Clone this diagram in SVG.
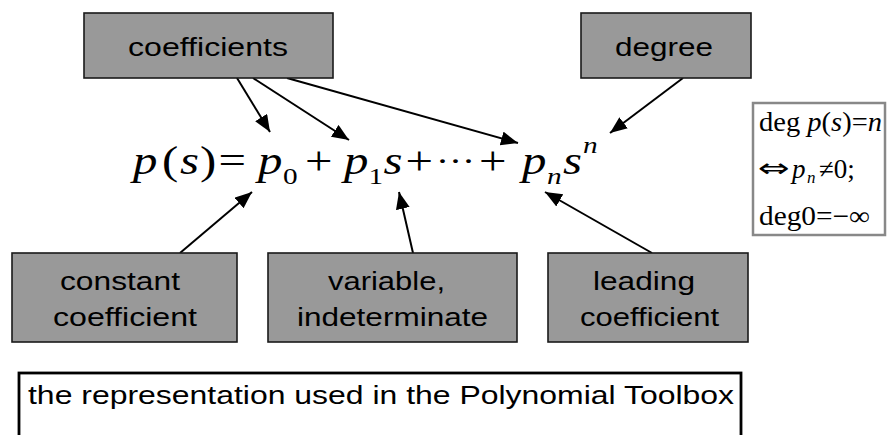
<svg xmlns="http://www.w3.org/2000/svg" width="887" height="435" viewBox="0 0 887 435">
<defs>
<style>
.box{fill:#999999;stroke:#1a1a1a;stroke-width:1.6}
.lbl{font-family:"Liberation Sans",Arial,sans-serif;font-size:26px;fill:#000}
.math{font-family:"Liberation Serif","Times New Roman",serif;fill:#000}
.it{font-style:italic}
.sub{font-size:24px}
.conn{stroke:#000;stroke-width:2;fill:none;marker-end:url(#ah)}
</style>
<marker id="ah" markerUnits="userSpaceOnUse" markerWidth="20" markerHeight="16" refX="17" refY="7" orient="auto">
<path d="M0,0 L17,7 L0,14 Z" fill="#000"/>
</marker>
</defs>
<rect width="887" height="435" fill="#fff"/>

<g id="connectors">
<line class="conn" x1="237" y1="78" x2="270" y2="132"/>
<line class="conn" x1="253" y1="78" x2="349" y2="140"/>
<line class="conn" x1="287" y1="78" x2="518" y2="143"/>
<line class="conn" x1="683" y1="78" x2="610" y2="133"/>
<line class="conn" x1="180" y1="253" x2="252" y2="192"/>
<line class="conn" x1="413" y1="253" x2="399" y2="192"/>
<line class="conn" x1="652" y1="253" x2="545" y2="192"/>
</g>

<g id="coefficients">
<rect class="box" x="84" y="13" width="249" height="65"/>
<text class="lbl" x="128" y="56" textLength="160" lengthAdjust="spacingAndGlyphs">coefficients</text>
</g>

<g id="degree">
<rect class="box" x="581" y="13" width="170" height="65"/>
<text class="lbl" x="615" y="56" textLength="98" lengthAdjust="spacingAndGlyphs">degree</text>
</g>

<g id="formula" transform="scale(1.22,1)">
<text class="math" font-size="40" y="174"><tspan class="it" x="109">p</tspan><tspan x="132.8">(</tspan><tspan class="it" x="147.5">s</tspan><tspan x="163.9">)</tspan><tspan x="179.1">=</tspan><tspan class="it" x="211.5">p</tspan><tspan class="sub" x="232" y="184">0</tspan><tspan x="250" y="174">+</tspan><tspan class="it" x="282">p</tspan><tspan class="sub" x="302" y="184">1</tspan><tspan class="it" x="314.3" y="174">s</tspan><tspan x="332.4">+</tspan><tspan x="357.4" y="172" font-size="32">···</tspan><tspan x="392.6" y="174">+</tspan><tspan class="it" x="427.9">p</tspan><tspan class="it sub" x="448.4" y="184">n</tspan><tspan class="it" x="461.5" y="174">s</tspan><tspan class="it sub" x="477.9" y="153">n</tspan></text>
</g>

<g id="degree-rule">
<rect x="753" y="103" width="132" height="132" fill="#fff" stroke="#888" stroke-width="2.5"/>
<text class="math" x="759" y="131" font-size="27" textLength="123" lengthAdjust="spacingAndGlyphs">deg <tspan class="it">p</tspan>(<tspan class="it">s</tspan>)=<tspan class="it">n</tspan></text>
<text x="758" y="177" font-family="'DejaVu Sans',sans-serif" font-size="26" textLength="32" lengthAdjust="spacingAndGlyphs">⇔</text>
<text class="math" font-size="27" y="178"><tspan class="it" x="792">p</tspan><tspan class="it" font-size="17" x="807" y="183">n</tspan><tspan x="819" y="178">≠0;</tspan></text>
<text class="math" x="759" y="225" font-size="27" textLength="111" lengthAdjust="spacingAndGlyphs">deg0=−∞</text>
</g>

<g id="constant-coefficient">
<rect class="box" x="12" y="253" width="225" height="89"/>
<text class="lbl" x="60" y="290" textLength="120" lengthAdjust="spacingAndGlyphs">constant</text>
<text class="lbl" x="53" y="326" textLength="144" lengthAdjust="spacingAndGlyphs">coefficient</text>
</g>

<g id="variable">
<rect class="box" x="268" y="253" width="249" height="89"/>
<text class="lbl" x="328" y="290" textLength="117" lengthAdjust="spacingAndGlyphs">variable,</text>
<text class="lbl" x="297" y="326" textLength="191" lengthAdjust="spacingAndGlyphs">indeterminate</text>
</g>

<g id="leading-coefficient">
<rect class="box" x="548" y="253" width="200" height="89"/>
<text class="lbl" x="593" y="290" textLength="102" lengthAdjust="spacingAndGlyphs">leading</text>
<text class="lbl" x="580" y="326" textLength="139" lengthAdjust="spacingAndGlyphs">coefficient</text>
</g>

<g id="representation">
<rect x="19" y="373" width="722" height="90" fill="#fff" stroke="#000" stroke-width="2.8"/>
<text class="lbl" x="28" y="404" textLength="706" lengthAdjust="spacingAndGlyphs">the representation used in the Polynomial Toolbox</text>
</g>
</svg>
